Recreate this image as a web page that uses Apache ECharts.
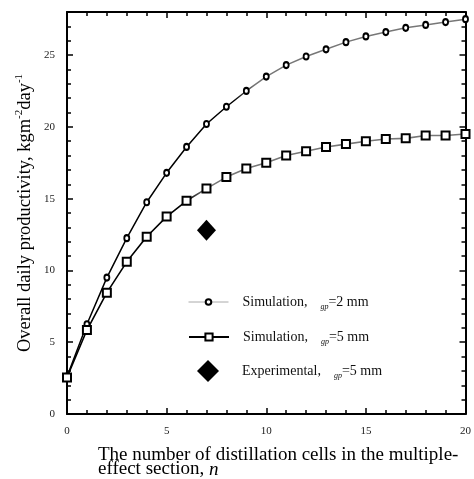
<!DOCTYPE html>
<html><head><meta charset="utf-8">
<script src="https://cdn.jsdelivr.net/npm/echarts@6/dist/echarts.min.js"></script>
<style>html,body{margin:0;padding:0;background:#fff}#c{width:474px;height:479px}</style>
</head><body><div id="c"></div>
<script>
// ---- data ----
const cells   = [0,1,2,3,4,5,6,7,8,9,10,11,12,13,14,15,16,17,18,19,20];
const sim2mm  = [2.6,6.25,9.5,12.25,14.75,16.8,18.6,20.2,21.4,22.5,23.5,24.3,24.9,25.4,25.9,26.3,26.6,26.9,27.1,27.3,27.5];
const sim5mm  = [2.55,5.85,8.45,10.6,12.35,13.75,14.85,15.7,16.5,17.1,17.5,18.0,18.3,18.6,18.8,19.0,19.15,19.2,19.4,19.4,19.5];
const expCells = [7];
const expVals  = [12.8];
const xTickLabels = [0,5,10,15,20];
const yTickLabels = [0,5,10,15,20,25];
const seriesNames = ['Simulation, gp=2 mm','Simulation, gp=5 mm','Experimental, gp=5 mm'];
const legendMain = ['Simulation,','Simulation,','Experimental,'];
const legendSub  = ['gp','gp','gp'];
const legendVal  = ['=2 mm','=5 mm','=5 mm'];

const F = 'Liberation Serif';
const chart = echarts.init(document.getElementById('c'));

function lineGrad(stop){
  return new echarts.graphic.LinearGradient(0,0,1,0,[
    {offset:0,color:'#000'},{offset:stop,color:'#000'},
    {offset:stop+0.05,color:'#777'},{offset:1,color:'#777'}]);
}
const tickStyle = {color:'#000',width:1.5};
function xAx(pos, labels){
  return {type:'value', position:pos, min:0, max:20, interval:5,
    axisLine:{show:true,onZero:false,lineStyle:{color:'#000',width:2}},
    axisTick:{show:true,inside:true,length:6,lineStyle:tickStyle},
    minorTick:{show:true,splitNumber:5,length:4,lineStyle:tickStyle},
    splitLine:{show:false}, minorSplitLine:{show:false},
    axisLabel:{show:labels,margin:12,fontFamily:F,fontSize:11,color:'#222',
      formatter:v=>xTickLabels.includes(v)?String(v):''}};
}
function yAx(pos, major, labels){
  return {type:'value', position:pos, min:0, max:28, interval: major?5:1,
    axisLine:{show:major,onZero:false,lineStyle:{color:'#000',width:2}},
    axisTick:{show:true,inside:true,length:major?6:4,lineStyle:tickStyle},
    splitLine:{show:false},
    axisLabel:{show:labels,margin:12,fontFamily:F,fontSize:11,color:'#222',
      formatter:v=>yTickLabels.includes(v)?String(v):''}};
}
const yMain = yAx('left', true, true);
yMain.name = '{a|Overall daily productivity, kgm}{s|-2}{a|day}{s|-1}';
yMain.nameLocation = 'middle';
yMain.nameRotate = 90;
yMain.nameGap = 32;
yMain.nameMoveOverlap = false;
yMain.nameTextStyle = {rich:{
  a:{fontFamily:F,fontSize:18.5,color:'#000',lineHeight:20},
  s:{fontFamily:F,fontSize:11,color:'#000',lineHeight:11,padding:[0,0,12,0]}}};

function legRich(pad){
  return {
    p:{fontFamily:F,fontSize:14,color:'#111',lineHeight:15,padding:[0,0,0,pad]},
    a:{fontFamily:F,fontSize:14,color:'#111',lineHeight:15},
    s:{fontFamily:F,fontSize:8,fontStyle:'italic',color:'#111',lineHeight:9,padding:[10,0,0,13]}
  };
}
function legendFor(i, left, top, iw, ih, pad, extra){
  return {data:[Object.assign({name:seriesNames[i]}, extra)], left:left, top:top, orient:'vertical',
    itemWidth:iw, itemHeight:ih, padding:0, selectedMode:false,
    formatter: n => '{p|'+legendMain[i]+'}{s|'+legendSub[i]+'}{a|'+legendVal[i]+'}',
    textStyle:{rich:legRich(pad)}};
}

chart.setOption({
  animation:false,
  backgroundColor:'#fff',
  grid:{left:67,right:5,top:12,bottom:65},
  xAxis:[xAx('bottom',true), xAx('top',false)],
  yAxis:[yMain, yAx('left',false,false), yAx('right',true,false), yAx('right',false,false)],
  legend:[
    legendFor(0, 188, 293, 40, 7, 9, {lineStyle:{color:'#aaa',width:1}}),
    legendFor(1, 188, 328, 40, 9, 9, {lineStyle:{color:'#000',width:2}}),
    legendFor(2, 197, 360, 22, 22, 18, {itemStyle:{color:'#000',opacity:1}})
  ],
  series:[
    {type:'line', name:seriesNames[0], xAxisIndex:0, yAxisIndex:0,
      data:cells.map((n,i)=>[n,sim2mm[i]]),
      symbol:'emptyCircle', symbolSize:[5,6],
      itemStyle:{color:'#000',borderWidth:1.5},
      lineStyle:{width:1.5,color:lineGrad(0.42)}},
    {type:'line', name:seriesNames[1], xAxisIndex:0, yAxisIndex:0,
      data:cells.map((n,i)=>[n,sim5mm[i]]),
      symbol:'emptyRect', symbolSize:8,
      itemStyle:{color:'#000',borderWidth:1.5},
      lineStyle:{width:1.6,color:lineGrad(0.3)}},
    {type:'scatter', name:seriesNames[2], xAxisIndex:0, yAxisIndex:0,
      data:expCells.map((n,i)=>[n,expVals[i]]),
      symbol:'diamond', symbolSize:[19,21],
      itemStyle:{color:'#000',opacity:1}}
  ],
  graphic:[{type:'text', left:98, top:446,
    style:{text:'The number of distillation cells in the multiple-\neffect section, {i|n}',
      fontFamily:F, fontSize:19, fill:'#000', lineHeight:14,
      rich:{i:{fontFamily:F,fontSize:19,fontStyle:'italic',fill:'#000',lineHeight:14}}}}]
});
</script></body></html>
